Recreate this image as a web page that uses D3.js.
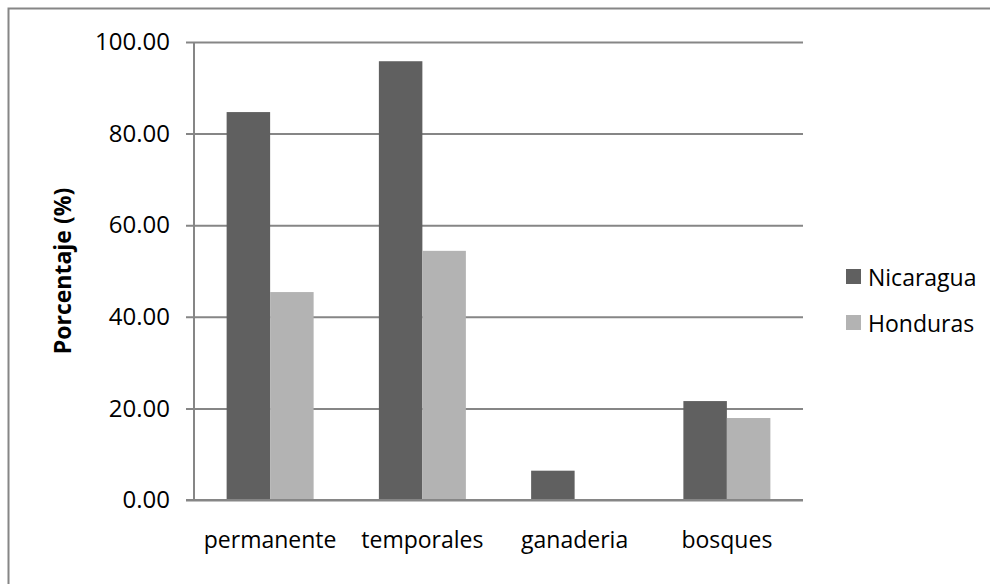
<!DOCTYPE html>
<html>
<head>
<meta charset="utf-8">
<script src="https://cdn.jsdelivr.net/npm/d3@7"></script>
<style>
  html, body { margin: 0; padding: 0; background: #ffffff; }
  svg { display: block; }
  text { font-family: "Open Sans", "Noto Sans", sans-serif; fill: #000; }
</style>
</head>
<body>
<svg id="chart" width="990" height="584"></svg>
<script>
const categories = ["permanente", "temporales", "ganaderia", "bosques"];
const seriesNames = ["Nicaragua", "Honduras"];
const nicaragua = [84.7, 95.8, 6.4, 21.6];
const honduras = [45.4, 54.4, 0, 17.9];
const yTicks = [0, 20, 40, 60, 80, 100];
const yTitle = "Porcentaje (%)";
const colors = ["#606060", "#b3b3b3"];

const svg = d3.select("#chart");
const W = 990, H = 584;
const margin = { left: 194, right: 187, top: 42, bottom: 84 };
const x0 = margin.left, x1 = W - margin.right;
const y0 = H - margin.bottom, y1 = margin.top;

// outer chart border
svg.append("rect")
  .attr("x", 8.5).attr("y", 8.5)
  .attr("width", 1100).attr("height", 700)
  .attr("fill", "none").attr("stroke", "#868686").attr("stroke-width", 2);

const x = d3.scaleBand().domain(categories).range([x0, x1]).padding(0);
const xs = d3.scaleBand().domain(seriesNames).range([0, x.bandwidth()])
  .paddingInner(0).paddingOuter(0.75);
const y = d3.scaleLinear().domain([0, 100]).range([y0, y1]);

// gridlines + y axis ticks
const yAxis = d3.axisLeft(y).tickValues(yTicks)
  .tickSize(-(x1 - x0)).tickPadding(24)
  .tickFormat(d3.format(".2f"));
const gy = svg.append("g").attr("transform", `translate(${x0},0)`).call(yAxis);
gy.select(".domain").remove();
gy.selectAll(".tick line")
  .attr("x1", -8)
  .attr("stroke", "#868686").attr("stroke-width", 2);
gy.selectAll(".tick text")
  .attr("font-size", 24).attr("font-family", "'Open Sans', sans-serif")
  .attr("fill", "#000");

// bars
const data = categories.map((c, i) => ({ c, vals: [nicaragua[i], honduras[i]] }));
const groups = svg.append("g").selectAll("g").data(data).join("g")
  .attr("transform", d => `translate(${x(d.c)},0)`);
groups.selectAll("rect")
  .data(d => d.vals.map((v, j) => ({ s: seriesNames[j], v, j })))
  .join("rect")
  .attr("x", d => xs(d.s))
  .attr("width", xs.bandwidth())
  .attr("y", d => y(d.v))
  .attr("height", d => y(0) - y(d.v))
  .attr("fill", d => colors[d.j]);

// y axis line (left)
svg.append("line")
  .attr("x1", x0).attr("x2", x0).attr("y1", y1).attr("y2", y0)
  .attr("stroke", "#868686").attr("stroke-width", 2);
// x axis line
svg.append("line")
  .attr("x1", x0 - 8).attr("x2", x1).attr("y1", y0).attr("y2", y0)
  .attr("stroke", "#868686").attr("stroke-width", 2);

// x axis labels
const xAxis = d3.axisBottom(x).tickSize(0).tickPadding(32);
const gx = svg.append("g").attr("transform", `translate(0,${y0})`).call(xAxis);
gx.select(".domain").remove();
gx.selectAll(".tick text")
  .attr("font-size", 23).attr("font-family", "'Open Sans', sans-serif")
  .attr("fill", "#000");

// y title
svg.append("text")
  .attr("transform", `translate(62,${(y0 + y1) / 2}) rotate(-90)`)
  .attr("text-anchor", "middle").attr("dominant-baseline", "central")
  .attr("font-size", 23).attr("font-weight", "bold")
  .text(yTitle);

// legend
const legend = svg.append("g").attr("transform", "translate(846,269)");
const li = legend.selectAll("g").data(seriesNames).join("g")
  .attr("transform", (d, i) => `translate(0,${i * 46})`);
li.append("rect").attr("width", 15).attr("height", 15)
  .attr("fill", (d, i) => colors[i]);
li.append("text").attr("x", 22).attr("y", 8)
  .attr("dominant-baseline", "central")
  .attr("font-size", 23).text(d => d);
</script>
</body>
</html>
